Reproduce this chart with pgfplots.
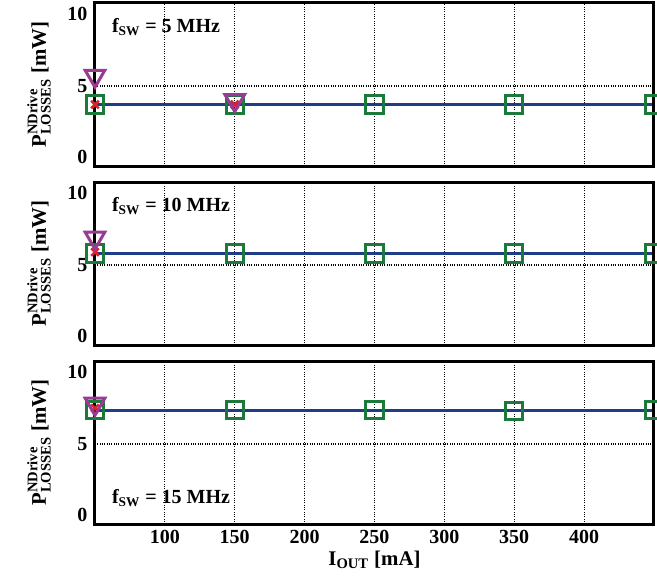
\documentclass[border=0pt]{standalone}
\usepackage{fontspec}
\setmainfont{Liberation Serif}
\usepackage{amsmath}
\usepackage{pgfplots}
\pgfplotsset{compat=1.18}
\definecolor{LineBlue}{HTML}{1F3C88}
\definecolor{SqGreen}{HTML}{1B7A3A}
\definecolor{TriPurple}{HTML}{9A3A94}
\definecolor{XRed}{HTML}{E0202A}
\tikzset{ftext/.style={font=\fontsize{12}{14}\selectfont\bfseries,anchor=west}}
\pgfplotsset{
  panel/.style={
    scale only axis,width=335.4pt,height=97.8pt,
    xmin=50,xmax=450,ymin=-0.6,ymax=10.8,
    xtick={100,150,...,400},ytick={0,5,10},
    xmajorgrids,ymajorgrids=false,
    extra y ticks={5},extra y tick labels={},
    extra y tick style={ymajorgrids=true},
    grid style={black,densely dotted,line width=0.7pt},
    major tick length=0pt,
    /pgf/number format/assume math mode=true,
    tick label style={font=\fontsize{12}{14}\selectfont\bfseries},
    yticklabel style={xshift=-1pt},
    ylabel={$\text{P}^{\text{NDrive}}_{\text{LOSSES}}$ [mW]},
    ylabel style={font=\fontsize{12.5}{14}\selectfont\bfseries,
      at={(axis description cs:-0.1,0.5)},anchor=center},
    clip=false},
  blueline/.style={LineBlue,line width=1.8pt,no marks},
  sq/.style={only marks,mark=square,mark size=5.2pt,
    mark options={SqGreen,line width=1.8pt}},
  tri/.style={only marks,mark=triangle,mark size=6.8pt,
    mark options={TriPurple,line width=1.8pt,rotate=180}},
  xm/.style={only marks,mark=x,mark size=3.2pt,
    mark options={XRed,line width=1.5pt}}
}
\newcommand{\panelbox}{\draw[line width=1.8pt] (rel axis cs:0,0) rectangle (rel axis cs:1,1);}
\begin{document}
\begin{tikzpicture}
% 5 MHz
\begin{axis}[panel,at={(0,0)},anchor=south west,xticklabels={}]
  \addplot[blueline] coordinates {(50,3.7) (450,3.7)};
  \addplot[sq] coordinates {(50,3.7) (150,3.7) (250,3.7) (350,3.7) (450,3.7)};
  \addplot[xm] coordinates {(50,3.7) (150,3.7)};
  \addplot[tri] coordinates {(50,5.7) (150,4.0)};
  \panelbox
  \node[ftext] at (axis description cs:0.02,0.85) {f\textsubscript{SW} = 5 MHz};
\end{axis}
% 10 MHz
\begin{axis}[panel,at={(0,-107.4pt)},anchor=south west,xticklabels={}]
  \addplot[blueline] coordinates {(50,5.8) (450,5.8)};
  \addplot[sq] coordinates {(50,5.8) (150,5.8) (250,5.8) (350,5.8) (450,5.8)};
  \addplot[xm] coordinates {(50,5.9)};
  \addplot[tri] coordinates {(50,6.9)};
  \panelbox
  \node[ftext] at (axis description cs:0.02,0.85) {f\textsubscript{SW} = 10 MHz};
\end{axis}
% 15 MHz
\begin{axis}[panel,at={(0,-214.8pt)},anchor=south west,
  xlabel={I\textsubscript{OUT} [mA]},
  xlabel style={font=\fontsize{12.5}{14}\selectfont\bfseries,yshift=2pt}]
  \addplot[blueline] coordinates {(50,7.35) (450,7.35)};
  \addplot[sq] coordinates {(50,7.35) (150,7.35) (250,7.35) (350,7.3) (450,7.35)};
  \addplot[xm] coordinates {(50,7.5)};
  \addplot[tri] coordinates {(50,7.8)};
  \panelbox
  \node[ftext] at (axis description cs:0.02,0.16) {f\textsubscript{SW} = 15 MHz};
\end{axis}
\pgfresetboundingbox
\path[use as bounding box] (-57pt,-251.4pt) rectangle (337.2pt,99.6pt);
\end{tikzpicture}
\end{document}
